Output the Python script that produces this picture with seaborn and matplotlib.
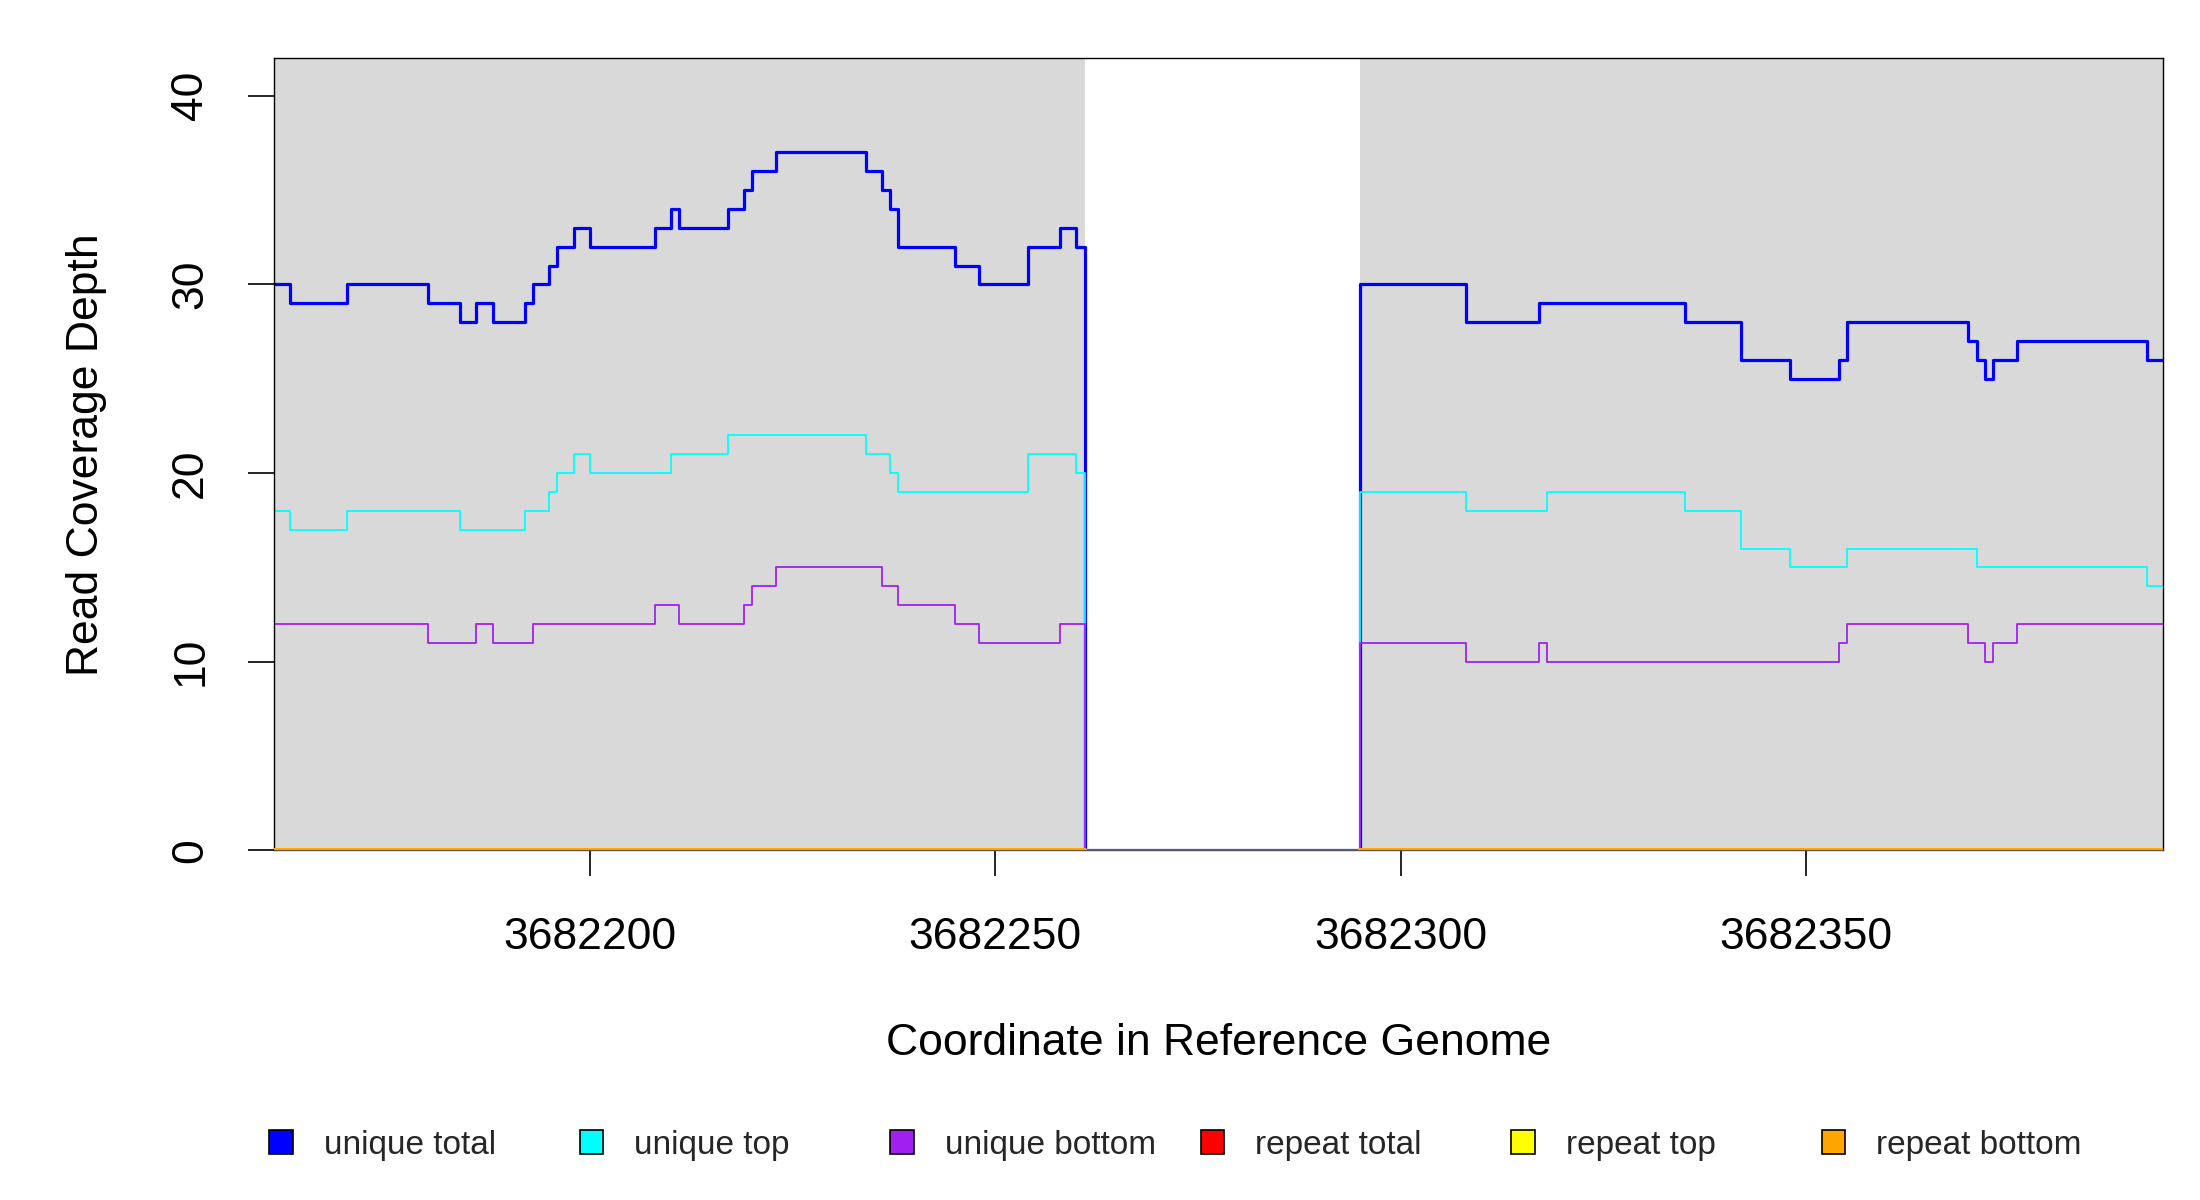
import numpy as np
import pandas as pd
import matplotlib
matplotlib.use("Agg")
import matplotlib.pyplot as plt
import seaborn as sns
from matplotlib.patches import Patch

# genome window shown on the x axis
START = 3682161
END = 3682394

# each series: offsets (from START) where a new depth begins, and that depth
total_breaks = [0, 2, 9, 19, 23, 25, 27, 31, 32, 34, 35, 37, 39, 47, 49, 50, 56, 58, 59, 62,
                73, 75, 76, 77, 84, 87, 93, 97, 99, 100, 134, 147, 156, 174, 181, 187, 193, 194,
                209, 210, 211, 212, 215, 231]
total_values = [30, 29, 30, 29, 28, 29, 28, 29, 30, 31, 32, 33, 32, 33, 34, 33, 34, 35, 36, 37,
                36, 35, 34, 32, 31, 30, 32, 33, 32, 0, 30, 28, 29, 28, 26, 25, 26, 28,
                27, 26, 25, 26, 27, 26]

top_breaks = [0, 2, 9, 23, 31, 34, 35, 37, 39, 49, 56, 73, 76, 77, 93, 99, 100,
              134, 147, 157, 174, 181, 187, 194, 210, 231]
top_values = [18, 17, 18, 17, 18, 19, 20, 21, 20, 21, 22, 21, 20, 19, 21, 20, 0,
              19, 18, 19, 18, 16, 15, 16, 15, 14]

bottom_breaks = [0, 19, 25, 27, 32, 47, 50, 58, 59, 62, 75, 77, 84, 87, 97, 100,
                 134, 147, 156, 157, 193, 194, 209, 211, 212, 215]
bottom_values = [12, 11, 12, 11, 12, 13, 12, 13, 14, 15, 14, 13, 12, 11, 12, 0,
                 11, 10, 11, 10, 11, 12, 11, 10, 11, 12]

repeat_breaks = [0, 100, 134]
repeat_values = [0, np.nan, 0]

labels = ["unique total", "unique top", "unique bottom",
          "repeat total", "repeat top", "repeat bottom"]
colors = ["#0000FF", "#00FFFF", "#A020F0", "#FF0000", "#FFFF00", "#FFA500"]
widths = [1.15, 0.65, 0.65, 1.4, 1.4, 1.4]
zorders = [2, 2, 2, 3, 3, 3]

series = [
    (labels[0], total_breaks, total_values),
    (labels[1], top_breaks, top_values),
    (labels[2], bottom_breaks, bottom_values),
    (labels[3], repeat_breaks, repeat_values),
    (labels[4], repeat_breaks, repeat_values),
    (labels[5], repeat_breaks, repeat_values),
]


def step_rows(name, breaks, values):
    edges = [START + b for b in breaks] + [END]
    rows = []
    seg = 0
    prev = None
    for i, v in enumerate(values):
        if np.isnan(v):
            if prev is not None:
                rows.append((name, edges[i], prev, seg))
                seg += 1
                prev = None
            continue
        rows.append((name, edges[i], v, seg))
        prev = v
    if prev is not None:
        rows.append((name, END, prev, seg))
    return rows


records = []
for name, b, v in series:
    records += step_rows(name, b, v)
df = pd.DataFrame(records, columns=["series", "pos", "depth", "segment"])

sns.set_theme(style="white")
plt.rcParams["font.family"] = ["Liberation Sans", "DejaVu Sans"]

fig, ax = plt.subplots(figsize=(11, 6), dpi=200)
fig.subplots_adjust(left=0.1244, right=0.9832, top=0.9517, bottom=0.2913)
ax.set_facecolor("white")

# grey background where the region has coverage
edges = [START + b for b in total_breaks] + [END]
span_start = None
for i, v in enumerate(total_values):
    if v > 0 and span_start is None:
        span_start = edges[i]
    if v == 0 and span_start is not None:
        ax.axvspan(span_start, edges[i], color="#D9D9D9", lw=0, zorder=0)
        span_start = None
if span_start is not None:
    ax.axvspan(span_start, END, color="#D9D9D9", lw=0, zorder=0)

for name, color, lw, z in zip(labels, colors, widths, zorders):
    sub = df[df["series"] == name]
    sns.lineplot(data=sub, x="pos", y="depth", units="segment", estimator=None,
                 color=color, linewidth=lw, drawstyle="steps-post", sort=False,
                 legend=False, zorder=z, ax=ax)

ax.set_xlim(START, END)
ax.set_ylim(0, 42)
xticks = np.arange(3682200, 3682351, 50)
ax.set_xticks(xticks)
ax.set_xticklabels([str(t) for t in xticks])
ax.set_yticks([0, 10, 20, 30, 40])
ax.set_yticklabels(["0", "10", "20", "30", "40"])

ax.tick_params(axis="both", which="major", length=9.2, width=0.6, color="black",
               labelsize=16, labelcolor="black", bottom=True, left=True)
ax.tick_params(axis="x", pad=14.8)
ax.tick_params(axis="y", pad=13.3, labelrotation=90)
for lbl in ax.get_yticklabels():
    lbl.set_va("center")

for sp in ax.spines.values():
    sp.set_visible(True)
    sp.set_color("black")
    sp.set_linewidth(0.5)
ax.spines["bottom"].set_color("#555555")

ax.set_xlabel("Coordinate in Reference Genome", fontsize=16, color="black")
ax.set_ylabel("Read Coverage Depth", fontsize=16, color="black")
ax.xaxis.set_label_coords(0.5, -0.2177)
ax.yaxis.set_label_coords(-0.088, 0.5)

for i, (name, color) in enumerate(zip(labels, colors)):
    fig.legend(handles=[Patch(facecolor=color, edgecolor="black", linewidth=0.6)],
               labels=[name], loc="center left",
               bbox_to_anchor=(0.1224 + i * 0.14114, 0.0458),
               frameon=False, fontsize=12, handlelength=0.7, handleheight=0.7,
               handletextpad=0.93, borderpad=0, borderaxespad=0)

fig.savefig("out.png", dpi=200)
